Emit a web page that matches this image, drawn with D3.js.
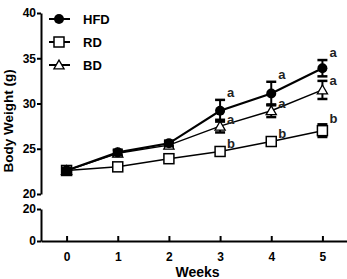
<!DOCTYPE html>
<html>
<head>
<meta charset="utf-8">
<script src="https://cdn.jsdelivr.net/npm/d3@7"></script>
<style>
  body { margin: 0; background: #fff; }
  text { font-family: "Liberation Sans", Arial, sans-serif; font-weight: bold; }
</style>
</head>
<body>
<svg id="chart" width="347" height="279"></svg>
<script>
const weeks = [0, 1, 2, 3, 4, 5]
const hfd = [22.6, 24.6, 25.6, 29.2, 31.1, 33.9]
const hfdErr = [0.3, 0.3, 0.3, 1.2, 1.3, 0.9]
const rd = [22.6, 23.0, 23.9, 24.7, 25.8, 27.0]
const rdErr = [0.2, 0.3, 0.3, 0.3, 0.3, 0.7]
const bd = [22.6, 24.5, 25.4, 27.5, 29.2, 31.5]
const bdErr = [0.2, 0.3, 0.3, 0.7, 0.7, 1.0]
const hfdLetters = ['', '', '', 'a', 'a', 'a']
const rdLetters = ['', '', '', 'b', 'b', 'b']
const bdLetters = ['', '', '', 'a', 'a', 'a']
const upperTicks = [20, 25, 30, 35, 40]
const lowerTicks = [0, 20]

const svg = d3.select('#chart')

const x = d3.scaleLinear().domain([-0.5, 5.5]).range([41, 348])
const yUp = d3.scaleLinear().domain([20, 40]).range([194, 13])
const yLow = d3.scaleLinear().domain([0, 20]).range([241, 209])

// axes
const upAxis = svg.append('g')
  .attr('transform', 'translate(41,0)')
  .call(d3.axisLeft(yUp).tickValues(upperTicks).tickSize(4).tickSizeOuter(0))
const lowAxis = svg.append('g')
  .attr('transform', 'translate(41,0)')
  .call(d3.axisLeft(yLow).tickValues(lowerTicks).tickSize(4).tickSizeOuter(0))
const xAxis = svg.append('g')
  .attr('transform', 'translate(0,241)')
  .call(d3.axisBottom(x).tickValues(weeks).tickFormat(d3.format('d'))
    .tickSize(-5).tickSizeOuter(0).tickPadding(11))

;[upAxis, lowAxis, xAxis].forEach(g => {
  g.selectAll('path, line').attr('stroke', '#000').attr('stroke-width', 2)
  g.selectAll('text').attr('fill', '#000').style('font-size', '12px').style('font-weight', 'bold')
})
upAxis.selectAll('text').attr('x', -5)
lowAxis.selectAll('text').attr('x', -5)

svg.append('text')
  .text('Weeks')
  .attr('x', x(2.5) + 3)
  .attr('y', 277)
  .attr('text-anchor', 'middle')
  .style('font-size', '14px')

svg.append('text')
  .text('Body Weight (g)')
  .attr('transform', 'translate(13,121) rotate(-90)')
  .attr('text-anchor', 'middle')
  .style('font-size', '13.5px')

const series = [
  { name: 'RD', vals: rd, err: rdErr, letters: rdLetters, shape: 'square', width: 1.5, dy: -1 },
  { name: 'BD', vals: bd, err: bdErr, letters: bdLetters, shape: 'triangle', width: 1.5, dy: 4 },
  { name: 'HFD', vals: hfd, err: hfdErr, letters: hfdLetters, shape: 'circle', width: 2.2, dy: -3 }
]

const line = d3.line().x(d => x(d[0])).y(d => yUp(d[1]))

function drawMarker(g, shape, cx, cy) {
  if (shape === 'circle') {
    g.append('circle').attr('cx', cx).attr('cy', cy).attr('r', 5).attr('fill', '#000')
  } else if (shape === 'square') {
    g.append('rect').attr('x', cx - 5).attr('y', cy - 5).attr('width', 10).attr('height', 10)
      .attr('fill', '#fff').attr('stroke', '#000').attr('stroke-width', 1.5)
  } else {
    g.append('path')
      .attr('d', d3.symbol().type(d3.symbolTriangle).size(45)())
      .attr('transform', `translate(${cx},${cy + 1})`)
      .attr('fill', '#fff').attr('stroke', '#000').attr('stroke-width', 1.3)
  }
}

// lines
series.forEach(s => {
  svg.append('path')
    .datum(weeks.map((w, i) => [w, s.vals[i]]))
    .attr('d', line)
    .attr('fill', 'none')
    .attr('stroke', '#000')
    .attr('stroke-width', s.width)
})

// error bars + markers + letters
series.forEach(s => {
  const g = svg.append('g')
  weeks.forEach((w, i) => {
    const cx = x(w)
    const top = yUp(s.vals[i] + s.err[i])
    const bot = yUp(s.vals[i] - s.err[i])
    g.append('line').attr('x1', cx).attr('x2', cx).attr('y1', top).attr('y2', bot)
      .attr('stroke', '#000').attr('stroke-width', 2)
    ;[top, bot].forEach(yy => {
      g.append('line').attr('x1', cx - 5).attr('x2', cx + 5).attr('y1', yy).attr('y2', yy)
        .attr('stroke', '#000').attr('stroke-width', 2.5)
    })
    drawMarker(g, s.shape, cx, yUp(s.vals[i]))
    if (s.letters[i]) {
      g.append('text')
        .text(s.letters[i])
        .attr('x', cx + 7)
        .attr('y', top + s.dy)
        .attr('fill', '#222')
        .style('font-size', '13px')
    }
  })
})

// legend
const legend = svg.append('g')
const legendRows = [
  { name: 'HFD', shape: 'circle', y: 19 },
  { name: 'RD', shape: 'square', y: 42 },
  { name: 'BD', shape: 'triangle', y: 65 }
]
legendRows.forEach(r => {
  legend.append('line').attr('x1', 49).attr('x2', 70).attr('y1', r.y).attr('y2', r.y)
    .attr('stroke', '#000').attr('stroke-width', 2)
  drawMarker(legend, r.shape, 59, r.y)
  legend.append('text').text(r.name)
    .attr('x', 83).attr('y', r.y + 5)
    .style('font-size', '13px')
})
</script>
</body>
</html>
